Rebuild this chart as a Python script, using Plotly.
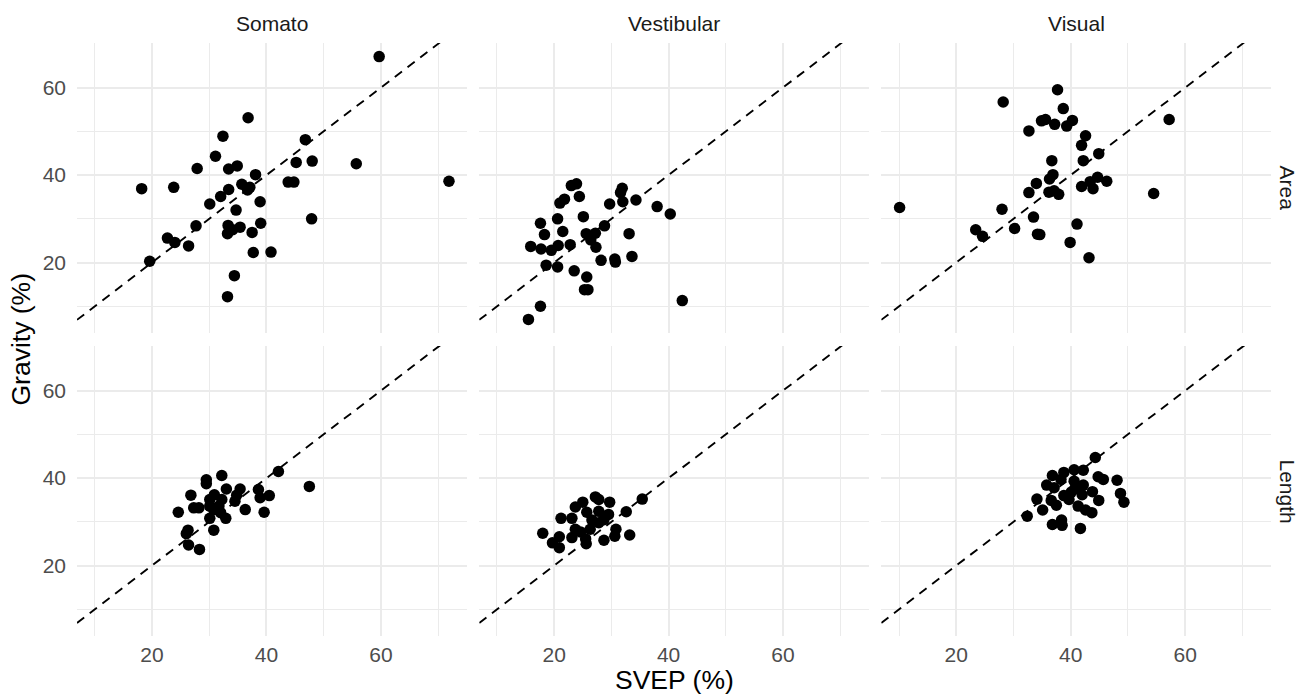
import plotly.graph_objects as go

# ---------------- data ----------------
modalities = ["Somato", "Vestibular", "Visual"]
measures = ["Area", "Length"]

somato_area_svep = [59.7, 36.8, 32.4, 46.8, 31.1, 27.9, 33.4, 34.9, 45.2, 48.0, 55.7, 38.1, 43.8, 44.8,
                    71.9, 18.2, 23.8, 33.4, 35.7, 37.1, 36.7, 32.0, 30.1, 38.9, 34.7, 27.7, 33.3, 35.4,
                    39.0, 34.1, 33.2, 37.5, 47.9, 22.7, 24.0, 26.4, 37.7, 40.8, 19.6, 34.4, 33.2]
somato_area_grav = [67.1, 53.1, 48.9, 48.1, 44.3, 41.5, 41.4, 42.1, 42.9, 43.2, 42.6, 40.1, 38.4, 38.4,
                    38.6, 36.9, 37.2, 36.7, 37.9, 37.2, 36.6, 35.1, 33.4, 33.9, 32.0, 28.4, 28.5, 28.1,
                    29.0, 27.5, 26.6, 26.9, 30.0, 25.6, 24.6, 23.8, 22.3, 22.4, 20.3, 17.0, 12.2]

vestib_area_svep = [23.0, 23.9, 31.9, 31.6, 24.4, 21.8, 21.0, 29.7, 32.0, 34.3, 38.0, 40.3, 20.6, 25.1,
                    17.6, 18.3, 21.5, 28.8, 25.6, 27.2, 26.4, 33.1, 15.9, 17.7, 19.5, 20.7, 22.8, 27.3,
                    28.2, 30.6, 30.7, 33.6, 18.6, 20.6, 23.5, 25.7, 25.3, 25.9, 42.4, 17.6, 15.5]
vestib_area_grav = [37.6, 38.0, 37.0, 36.0, 35.1, 34.5, 33.6, 33.4, 33.9, 34.3, 32.8, 31.1, 30.0, 30.5,
                    29.0, 26.4, 27.1, 28.4, 26.6, 26.7, 25.2, 26.6, 23.7, 23.1, 22.8, 23.9, 24.1, 23.5,
                    20.5, 20.8, 20.1, 21.4, 19.4, 19.0, 18.1, 16.7, 13.8, 13.8, 11.3, 10.0, 7.0]

visual_area_svep = [37.7, 28.2, 38.7, 34.9, 35.6, 37.2, 39.3, 40.3, 57.2, 32.7, 42.6, 41.9, 44.9, 36.7,
                    42.2, 36.9, 36.3, 34.0, 44.7, 46.3, 43.4, 41.9, 43.9, 32.7, 36.2, 37.1, 37.9, 54.5,
                    10.1, 28.0, 33.5, 41.1, 23.4, 24.6, 30.2, 34.2, 34.6, 39.9, 43.2]
visual_area_grav = [59.5, 56.7, 55.2, 52.4, 52.7, 51.6, 51.2, 52.5, 52.7, 50.1, 49.0, 46.8, 44.9, 43.3,
                    43.3, 40.1, 39.1, 38.1, 39.5, 38.6, 38.5, 37.4, 36.9, 36.0, 36.1, 36.4, 35.6, 35.8,
                    32.6, 32.2, 30.4, 28.8, 27.5, 26.0, 27.8, 26.5, 26.4, 24.6, 21.1]

somato_len_svep = [42.1, 32.2, 29.5, 29.5, 47.5, 33.0, 35.4, 38.6, 26.8, 40.5, 30.9, 34.8, 38.9, 30.1,
                   32.2, 34.5, 27.3, 28.2, 30.1, 30.8, 31.7, 36.3, 24.6, 32.0, 39.6, 30.1, 32.9, 30.8,
                   26.3, 26.0, 26.4, 28.3]
somato_len_grav = [41.5, 40.6, 39.6, 38.7, 38.1, 37.5, 37.5, 37.4, 36.1, 36.0, 36.2, 36.1, 35.5, 35.1,
                   35.1, 34.7, 33.2, 33.2, 33.6, 32.8, 33.6, 32.8, 32.2, 32.1, 32.2, 30.8, 30.8, 28.1,
                   28.1, 27.3, 24.7, 23.7]

vestib_len_svep = [35.4, 27.2, 27.8, 29.7, 25.0, 23.7, 32.6, 25.7, 27.8, 29.5, 21.2, 23.1, 26.6, 28.7,
                   23.7, 24.6, 26.3, 30.8, 18.0, 20.9, 23.1, 25.5, 30.6, 33.2, 28.7, 19.7, 25.6, 20.9,
                   27.8]
vestib_len_grav = [35.2, 35.7, 35.1, 34.5, 34.5, 33.4, 32.3, 32.2, 32.4, 31.7, 30.8, 30.8, 30.4, 30.5,
                   28.3, 27.7, 28.3, 28.3, 27.4, 26.6, 26.4, 26.1, 26.7, 27.0, 25.8, 25.2, 25.0, 24.1,
                   29.8]

visual_len_svep = [44.3, 40.6, 42.2, 38.8, 36.8, 44.8, 45.7, 48.1, 38.3, 40.6, 35.8, 37.1, 42.2, 40.7,
                   43.8, 48.7, 38.8, 42.0, 34.1, 36.6, 39.7, 44.9, 49.3, 37.5, 41.3, 35.1, 42.6, 43.7,
                   32.4, 36.8, 38.4, 38.5, 41.7, 40.1]
visual_len_grav = [44.7, 41.9, 41.8, 41.3, 40.6, 40.3, 39.7, 39.5, 39.7, 39.3, 38.4, 37.8, 38.4, 37.5,
                   36.9, 36.5, 36.0, 36.2, 35.2, 34.9, 35.1, 34.9, 34.5, 33.8, 33.6, 32.7, 32.7, 32.1,
                   31.3, 29.4, 30.4, 29.2, 28.5, 36.8]

x_ticks = [20, 40, 60]
y_ticks = [20, 40, 60]
minor_ticks = [10, 30, 50, 70]

panels = {
    ("Area", "Somato"): (somato_area_svep, somato_area_grav),
    ("Area", "Vestibular"): (vestib_area_svep, vestib_area_grav),
    ("Area", "Visual"): (visual_area_svep, visual_area_grav),
    ("Length", "Somato"): (somato_len_svep, somato_len_grav),
    ("Length", "Vestibular"): (vestib_len_svep, vestib_len_grav),
    ("Length", "Visual"): (visual_len_svep, visual_len_grav),
}

# ---------------- layout constants ----------------
X_RANGE = [6.9, 75.0]
Y_RANGE = [3.9, 70.2]
W, H = 1299, 700
ML, MR, MT, MB = 77, 28, 43, 64
x_domains = [[0.0, 0.3264], [0.3369, 0.6631], [0.6736, 1.0]]
y_domains = [[0.511, 1.0], [0.0, 0.489]]  # row 0 (Area) top, row 1 (Length) bottom

FONT = "Liberation Sans, Arial, Helvetica, sans-serif"
GRID = "#EBEBEB"
TICK_SIZE = 21
TITLE_SIZE = 26.5

fig = go.Figure()
layout = dict(
    width=W, height=H,
    margin=dict(l=ML, r=MR, t=MT, b=MB),
    paper_bgcolor="white", plot_bgcolor="white",
    showlegend=False,
    font=dict(family=FONT, color="#4D4D4D", size=TICK_SIZE),
)

idx = 0
for r, meas in enumerate(measures):
    for c, mod in enumerate(modalities):
        idx += 1
        xa = "x" if idx == 1 else f"x{idx}"
        ya = "y" if idx == 1 else f"y{idx}"
        xs, ys = panels[(meas, mod)]
        # identity reference line (y = x) across the panel
        fig.add_trace(go.Scatter(
            x=[X_RANGE[0], X_RANGE[1]], y=[X_RANGE[0], X_RANGE[1]],
            mode="lines", xaxis=xa, yaxis=ya, hoverinfo="skip",
            line=dict(color="black", width=1.9, dash="9px,7px"),
        ))
        fig.add_trace(go.Scatter(
            x=xs, y=ys, mode="markers", xaxis=xa, yaxis=ya,
            marker=dict(color="black", size=11.5, line=dict(width=0)),
        ))
        xkey = "xaxis" if idx == 1 else f"xaxis{idx}"
        ykey = "yaxis" if idx == 1 else f"yaxis{idx}"
        layout[xkey] = dict(
            domain=x_domains[c], anchor=ya, range=X_RANGE,
            tickvals=x_ticks, showticklabels=(r == 1),
            showgrid=True, gridcolor=GRID, gridwidth=1.5,
            minor=dict(tickvals=minor_ticks, showgrid=True, gridcolor=GRID, gridwidth=1.1),
            zeroline=False, showline=False, ticks="",
            tickfont=dict(size=TICK_SIZE, color="#4D4D4D", family=FONT),
            ticklabelstandoff=4,
        )
        layout[ykey] = dict(
            domain=y_domains[r], anchor=xa, range=Y_RANGE,
            tickvals=y_ticks, showticklabels=(c == 0),
            showgrid=True, gridcolor=GRID, gridwidth=1.5,
            minor=dict(tickvals=minor_ticks, showgrid=True, gridcolor=GRID, gridwidth=1.1),
            zeroline=False, showline=False, ticks="",
            tickfont=dict(size=TICK_SIZE, color="#4D4D4D", family=FONT),
            ticklabelstandoff=10,
        )

annotations = []
# column strip labels
for c, mod in enumerate(modalities):
    cx = (x_domains[c][0] + x_domains[c][1]) / 2
    annotations.append(dict(
        text=mod, x=cx, y=1.0, xref="paper", yref="paper",
        xanchor="center", yanchor="bottom", yshift=6, showarrow=False,
        font=dict(size=TICK_SIZE, color="#1A1A1A", family=FONT),
    ))
# row strip labels (right side, rotated)
for r, meas in enumerate(measures):
    cy = (y_domains[r][0] + y_domains[r][1]) / 2
    annotations.append(dict(
        text=meas, x=1.0, y=cy, xref="paper", yref="paper",
        xanchor="left", yanchor="middle", xshift=3, showarrow=False, textangle=90,
        font=dict(size=TICK_SIZE, color="#1A1A1A", family=FONT),
    ))
# axis titles
annotations.append(dict(
    text="SVEP (%)", x=0.5, y=0, xref="paper", yref="paper",
    xanchor="center", yanchor="top", yshift=-27, showarrow=False,
    font=dict(size=TITLE_SIZE, color="black", family=FONT),
))
annotations.append(dict(
    text="Gravity (%)", x=0, y=0.5, xref="paper", yref="paper",
    xanchor="right", yanchor="middle", xshift=-40, showarrow=False, textangle=-90,
    font=dict(size=TITLE_SIZE, color="black", family=FONT),
))
layout["annotations"] = annotations

fig.update_layout(**layout)
fig.write_html(
    "out.html",
    config={"displayModeBar": False},
    post_script="document.body.style.margin='0';document.body.style.overflow='hidden';",
)
